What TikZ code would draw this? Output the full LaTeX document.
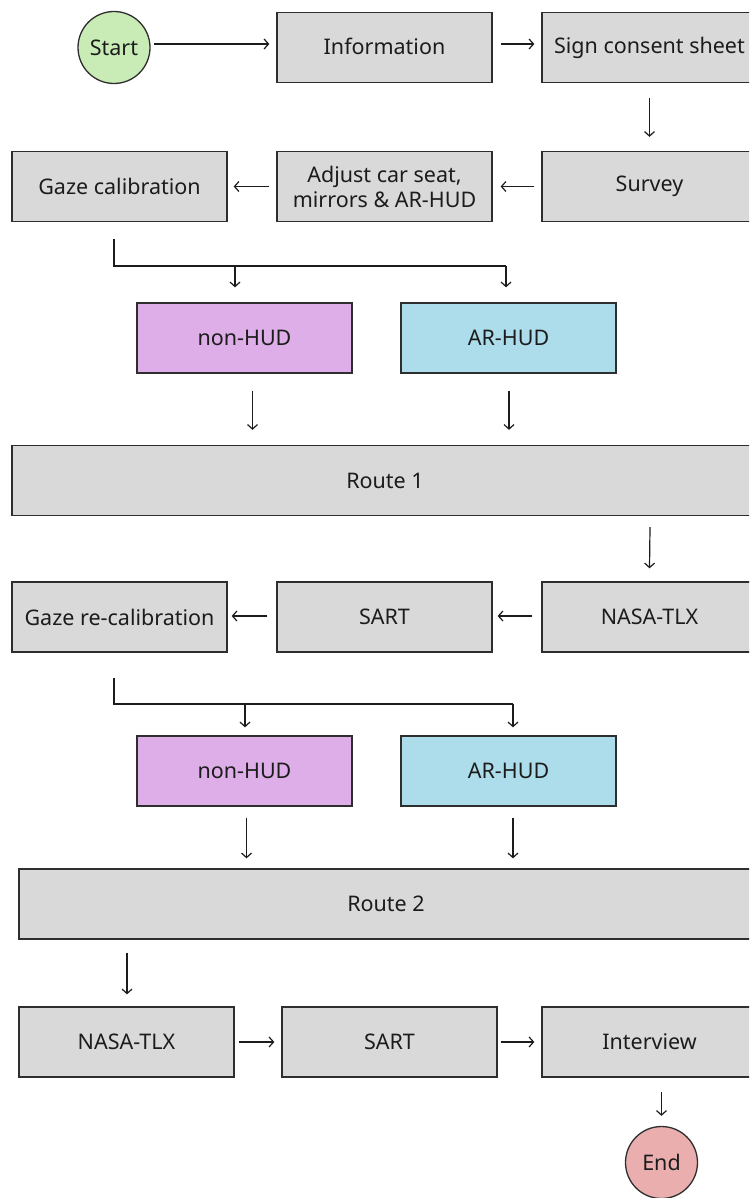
\documentclass[tikz,border=0pt]{standalone}
\usepackage{fontspec}
\setmainfont{Noto Sans}
\usetikzlibrary{arrows.meta}

\definecolor{ink}{HTML}{1C1C1C}
\definecolor{edge}{HTML}{2E2E2E}
\definecolor{boxgray}{HTML}{D9D9D9}
\definecolor{hudpurple}{HTML}{DDAEE8}
\definecolor{hudblue}{HTML}{ADDCEA}
\definecolor{startgreen}{HTML}{C9EBB6}
\definecolor{endred}{HTML}{EBAEAE}

\tikzset{
  stepbox/.style={draw=edge, fill=boxgray, line width=1.3pt,
    minimum width=215pt, minimum height=70pt, inner sep=0pt,
    align=center, text=ink, font=\fontsize{21.5}{25}\selectfont},
  widebox/.style={stepbox, minimum width=#1},
  nonhud/.style={stepbox, fill=hudpurple},
  arhud/.style={stepbox, fill=hudblue},
  terminal/.style={circle, draw=edge, line width=1.3pt, minimum size=72pt,
    inner sep=0pt, text=ink, font=\fontsize{21.5}{25}\selectfont},
  flow/.style={draw=ink, line width=1.2pt,
    -{Straight Barb[length=4.5pt,width=10pt,line width=1.2pt]}},
  wire/.style={draw=ink, line width=1.2pt},
}

\begin{document}
\begin{tikzpicture}[x=1pt, y=-1pt]
\useasboundingbox (0,0) rectangle (749,1198);
\clip (0,0) rectangle (749,1198);

% ---------- first block: briefing and preparation ----------
\node[terminal, fill=startgreen] (start) at (114,47.5) {Start};
\node[stepbox] (info)   at (384.5,47.5) {\raisebox{3pt}{Information}};
\node[stepbox] (sign)   at (649.5,47.5) {\raisebox{3pt}{Sign consent sheet}};
\node[stepbox] (survey) at (649.5,186.5) {Survey};
\node[stepbox] (adjust) at (384.5,186.5) {Adjust car seat,\\mirrors \& AR-HUD};
\node[stepbox] (gaze)   at (119.5,186.5) {Gaze calibration};

\draw[flow] ([xshift=3,yshift=3.5]start.east) -- ([xshift=-7,yshift=3.5]info.west);
\draw[flow] ([xshift=8,yshift=3.5]info.east) -- ([xshift=-7,yshift=3.5]sign.west);
\draw[flow] ([yshift=-15]sign.south) -- ([yshift=14]survey.north);
\draw[flow] ([xshift=-7]survey.west) -- ([xshift=8]adjust.east);
\draw[flow] ([xshift=-7]adjust.west) -- ([xshift=6]gaze.east);

% ---------- first drive ----------
\node[nonhud] (nh1) at (244.5,338) {non-HUD};
\node[arhud]  (ar1) at (508.5,338) {AR-HUD};
\node[widebox=746pt] (route1) at (385,480.5) {Route 1};

\coordinate (j1l) at (235,266);
\coordinate (j1r) at (506,266);
\draw[wire] ([xshift=-5.5,yshift=-17]gaze.south) |- (j1r);
\draw[flow] (j1l) -- ([xshift=-9.5,yshift=15]nh1.north);
\draw[flow] (j1r) -- ([xshift=-2.5,yshift=15]ar1.north);
\draw[flow] ([xshift=8,yshift=-17]nh1.south) -- ([xshift=-132.5,yshift=15]route1.north);
\draw[flow] ([xshift=0.5,yshift=-17]ar1.south) -- ([xshift=124,yshift=15]route1.north);

% ---------- questionnaires after route 1 ----------
\node[stepbox] (nasa1) at (649.5,617) {NASA-TLX};
\node[stepbox] (sart1) at (384.5,617) {SART};
\node[stepbox] (regaze) at (119.5,617) {Gaze re-calibration};

\draw[flow] ([xshift=265,yshift=-11]route1.south) -- ([yshift=13]nasa1.north);
\draw[flow] ([xshift=-9,yshift=1]nasa1.west) -- ([xshift=5,yshift=1]sart1.east);
\draw[flow] ([xshift=-9,yshift=1]sart1.west) -- ([xshift=4,yshift=1]regaze.east);

% ---------- second drive ----------
\node[nonhud] (nh2) at (244.5,771) {non-HUD};
\node[arhud]  (ar2) at (508.5,771) {AR-HUD};
\node[widebox=734pt] (route2) at (386,904) {Route 2};

\coordinate (j2l) at (245,704);
\coordinate (j2r) at (513,704);
\draw[wire] ([xshift=-5.5,yshift=-25]regaze.south) |- (j2r);
\draw[flow] (j2l) -- ([xshift=0.5,yshift=8]nh2.north);
\draw[flow] (j2r) -- ([xshift=4.5,yshift=8]ar2.north);
\draw[flow] ([xshift=2,yshift=-11]nh2.south) -- ([xshift=-139.5,yshift=10]route2.north);
\draw[flow] ([xshift=4.5,yshift=-11]ar2.south) -- ([xshift=127,yshift=10]route2.north);

% ---------- closing questionnaires and interview ----------
\node[stepbox] (nasa2) at (126.5,1042) {NASA-TLX};
\node[stepbox] (sart2) at (389.5,1042) {SART};
\node[stepbox] (interview) at (649.5,1042) {Interview};
\node[terminal, fill=endred] (end) at (661.5,1162.5) {End};

\draw[flow] ([xshift=-259,yshift=-13]route2.south) -- ([xshift=0.5,yshift=12]nasa2.north);
\draw[flow] ([xshift=4]nasa2.east) -- ([xshift=-7]sart2.west);
\draw[flow] ([xshift=3]sart2.east) -- ([xshift=-7]interview.west);
\draw[flow] ([xshift=12,yshift=-14]interview.south) -- ([yshift=10]end.north);
\end{tikzpicture}
\end{document}
